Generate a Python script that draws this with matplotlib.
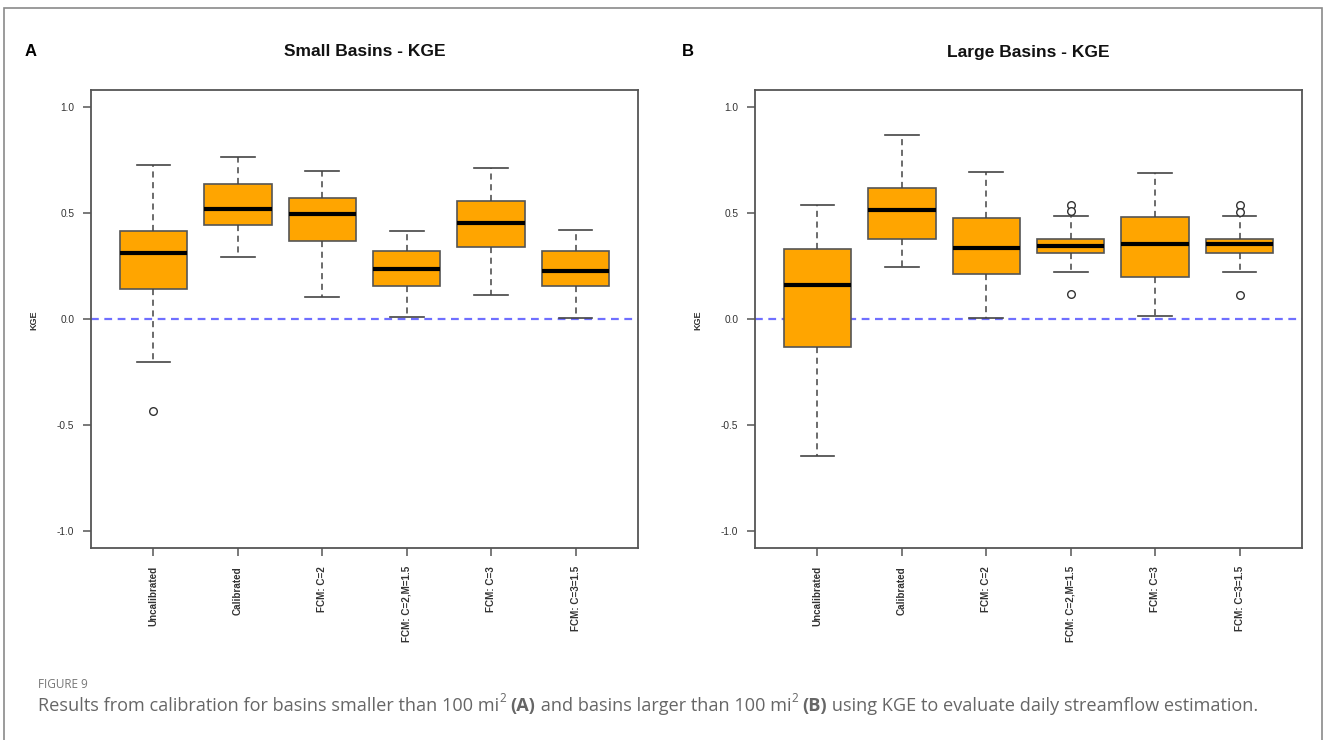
import matplotlib
matplotlib.use("Agg")
import matplotlib.pyplot as plt
from matplotlib.patches import Rectangle

W, H = 1328, 740
DPI = 100

categories = ["Uncalibrated", "Calibrated", "FCM: C=2", "FCM: C=2,M=1.5", "FCM: C=3", "FCM: C=3=1.5"]

# Small basins (panel A)
small_whislo = [-0.204, 0.294, 0.104, 0.008, 0.112, 0.003]
small_q1     = [0.142, 0.441, 0.370, 0.155, 0.338, 0.155]
small_med    = [0.313, 0.521, 0.493, 0.234, 0.452, 0.227]
small_q3     = [0.417, 0.635, 0.569, 0.319, 0.556, 0.319]
small_whishi = [0.725, 0.763, 0.697, 0.414, 0.711, 0.419]
small_fliers = [[-0.436], [], [], [], [], []]

# Large basins (panel B)
large_whislo = [-0.648, 0.243, 0.005, 0.224, 0.014, 0.223]
large_q1     = [-0.133, 0.379, 0.210, 0.311, 0.199, 0.311]
large_med    = [0.161, 0.512, 0.336, 0.346, 0.352, 0.354]
large_q3     = [0.332, 0.616, 0.477, 0.379, 0.483, 0.379]
large_whishi = [0.537, 0.869, 0.692, 0.485, 0.689, 0.488]
large_fliers = [[], [], [], [0.537, 0.510, 0.120], [], [0.537, 0.506, 0.115]]

yticks = [-1.0, -0.5, 0.0, 0.5, 1.0]
ytick_labels = ["-1.0", "-0.5", "0.0", "0.5", "1.0"]

plt.rcParams['font.family'] = ['Liberation Sans', 'DejaVu Sans']

fig = plt.figure(figsize=(W / DPI, H / DPI), dpi=DPI)


def px(x, y):
    return x / W, 1 - y / H


# outer frame
fig.patches.append(Rectangle(px(4, 760), (1322 - 4) / W, (760 - 8) / H,
                             transform=fig.transFigure, fill=False,
                             edgecolor="#8a8a8a", linewidth=1.2, clip_on=False))


def make_stats(lo, q1, med, q3, hi, fl):
    return [dict(whislo=a, q1=b, med=c, q3=d, whishi=e, fliers=f, label=lab)
            for a, b, c, d, e, f, lab in zip(lo, q1, med, q3, hi, fl, categories)]


def draw_panel(left_px, stats, title, letter, letter_x):
    ax_left, ax_right, ax_top, ax_bot = left_px, left_px + 547, 90, 548
    ax = fig.add_axes([ax_left / W, 1 - ax_bot / H, (ax_right - ax_left) / W, (ax_bot - ax_top) / H])
    ax.bxp(stats, positions=range(1, 7), widths=0.8, patch_artist=True,
           boxprops=dict(facecolor="#FFA500", edgecolor="#555555", linewidth=1.2),
           medianprops=dict(color="black", linewidth=3.0, solid_capstyle="butt"),
           whiskerprops=dict(color="#444444", linewidth=1.1, linestyle=(0, (4, 3))),
           capprops=dict(color="#444444", linewidth=1.2),
           flierprops=dict(marker="o", markerfacecolor="white", markeredgecolor="#333333",
                           markersize=5.5, markeredgewidth=1.0),
           capwidths=0.4)
    ax.axhline(0, color="#6f6fff", linewidth=1.6, linestyle=(0, (3.5, 2.5)), zorder=0.5)
    ax.set_xlim(0.26, 6.74)
    ax.set_ylim(-1.08, 1.08)
    ax.set_yticks(yticks)
    ax.set_yticklabels(ytick_labels)
    ax.set_xticks(range(1, 7))
    ax.set_xticklabels(categories, rotation=90, va="top", ha="center")
    for s in ax.spines.values():
        s.set_color("#555555")
        s.set_linewidth(1.3)
    ax.tick_params(axis="both", direction="out", length=6, width=1.1, color="#555555",
                   labelsize=7.3, labelcolor="#333333")
    ax.tick_params(axis="y", pad=6)
    ax.tick_params(axis="x", pad=7)
    for lab in ax.get_xticklabels():
        lab.set_fontweight("bold")
        lab.set_fontsize(7.1)
    fig.text(*px(left_px - 57, 320), "KGE", rotation=90, ha="center", va="center",
             fontsize=6.5, color="#333333", fontweight="bold")
    fig.text(*px(left_px + 273.5, 52), title, ha="center", va="center",
             fontsize=12.5, fontweight="bold", color="#111111")
    fig.text(*px(letter_x, 51), letter, ha="left", va="center",
             fontsize=12, fontweight="bold", color="black")
    return ax


draw_panel(91, make_stats(small_whislo, small_q1, small_med, small_q3, small_whishi, small_fliers),
           "Small Basins - KGE", "A", 25)
draw_panel(755, make_stats(large_whislo, large_q1, large_med, large_q3, large_whishi, large_fliers),
           "Large Basins - KGE", "B", 682)

# caption
cap_font = ['Open Sans', 'DejaVu Sans']
fig.text(*px(38, 685), "FIGURE 9", ha="left", va="center", fontsize=8.5,
         color="#777777", family=cap_font)

pieces = [
    ("Results from calibration for basins smaller than 100 mi", "normal", 0),
    ("2", "normal", 1),
    (" ", "normal", 0),
    ("(A)", "bold", 0),
    (" and basins larger than 100 mi", "normal", 0),
    ("2", "normal", 1),
    (" ", "normal", 0),
    ("(B)", "bold", 0),
    (" using KGE to evaluate daily streamflow estimation.", "normal", 0),
]
fig.canvas.draw()
renderer = fig.canvas.get_renderer()
x = 38
base_y = 706
for txt, wt, sup in pieces:
    size = 13.1 if not sup else 8.5
    y = base_y - (7 if sup else 0)
    t = fig.text(*px(x, y), txt, ha="left", va="center", fontsize=size, fontweight=wt,
                 color="#666666", family=cap_font)
    bb = t.get_window_extent(renderer=renderer)
    x += bb.width

fig.savefig("out.png", dpi=DPI)
